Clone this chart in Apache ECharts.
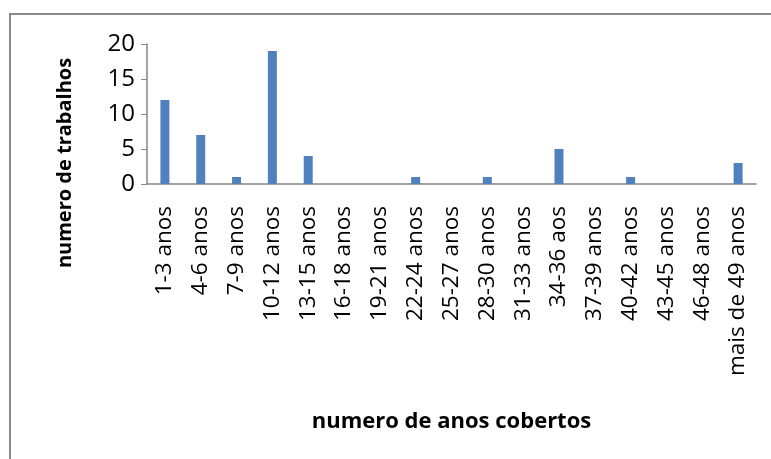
<!DOCTYPE html>
<html>
<head>
<meta charset="utf-8">
<script src="https://cdn.jsdelivr.net/npm/echarts@6/dist/echarts.min.js"></script>
<style>
html, body { margin: 0; padding: 0; background: #fff; }
#chart { width: 771px; height: 459px; }
</style>
</head>
<body>
<div id="chart"></div>
<script>
// categorias (faixas de anos) e numero de trabalhos
const categorias = ['1-3 anos', '4-6 anos', '7-9 anos', '10-12 anos', '13-15 anos', '16-18 anos',
    '19-21 anos', '22-24 anos', '25-27 anos', '28-30 anos', '31-33 anos', '34-36 aos',
    '37-39 anos', '40-42 anos', '43-45 anos', '46-48 anos', 'mais de 49 anos'];
const trabalhos = [12, 7, 1, 19, 4, 0, 0, 1, 0, 1, 0, 5, 0, 1, 0, 0, 3];
const yTicks = [0, 5, 10, 15, 20];

const fonte = '"Open Sans", sans-serif';
const myChart = echarts.init(document.getElementById('chart'));

const option = {
    animation: false,
    graphic: [
        {
            type: 'rect',
            shape: { x: 10, y: 14, width: 800, height: 500 },
            style: { fill: 'none', stroke: '#8a8a8a', lineWidth: 2 }
        },
        {
            // titulo do eixo y (fica mais abaixo que o centro do grid)
            type: 'text',
            x: 65,
            y: 163,
            rotation: Math.PI / 2,
            style: {
                text: 'numero de trabalhos',
                fontFamily: fonte,
                fontSize: 20,
                fontWeight: 'bold',
                fill: '#000',
                align: 'center',
                verticalAlign: 'middle'
            }
        }
    ],
    grid: {
        left: 147,
        right: 15,
        top: 44,
        bottom: 275
    },
    xAxis: {
        type: 'category',
        data: categorias,
        name: 'numero de anos cobertos',
        nameLocation: 'middle',
        nameGap: 227,
        nameTextStyle: { fontFamily: fonte, fontSize: 22, fontWeight: 'bold', color: '#000' },
        axisLine: { lineStyle: { color: '#868686', width: 1.5 } },
        axisTick: { show: false },
        axisLabel: {
            rotate: 90,
            interval: 0,
            margin: 22,
            fontFamily: fonte,
            fontSize: 22.5,
            color: '#000'
        }
    },
    yAxis: {
        type: 'value',
        min: 0,
        max: yTicks[yTicks.length - 1],
        interval: yTicks[1] - yTicks[0],
        axisLine: { show: true, lineStyle: { color: '#868686', width: 1.5 } },
        axisTick: { show: true, length: 6, lineStyle: { color: '#868686' } },
        splitLine: { show: false },
        axisLabel: { margin: 12, fontFamily: fonte, fontSize: 24, color: '#000' }
    },
    series: [
        {
            type: 'bar',
            data: trabalhos,
            barWidth: 9,
            itemStyle: { color: '#4F81BD' }
        }
    ]
};

myChart.setOption(option);
</script>
</body>
</html>
